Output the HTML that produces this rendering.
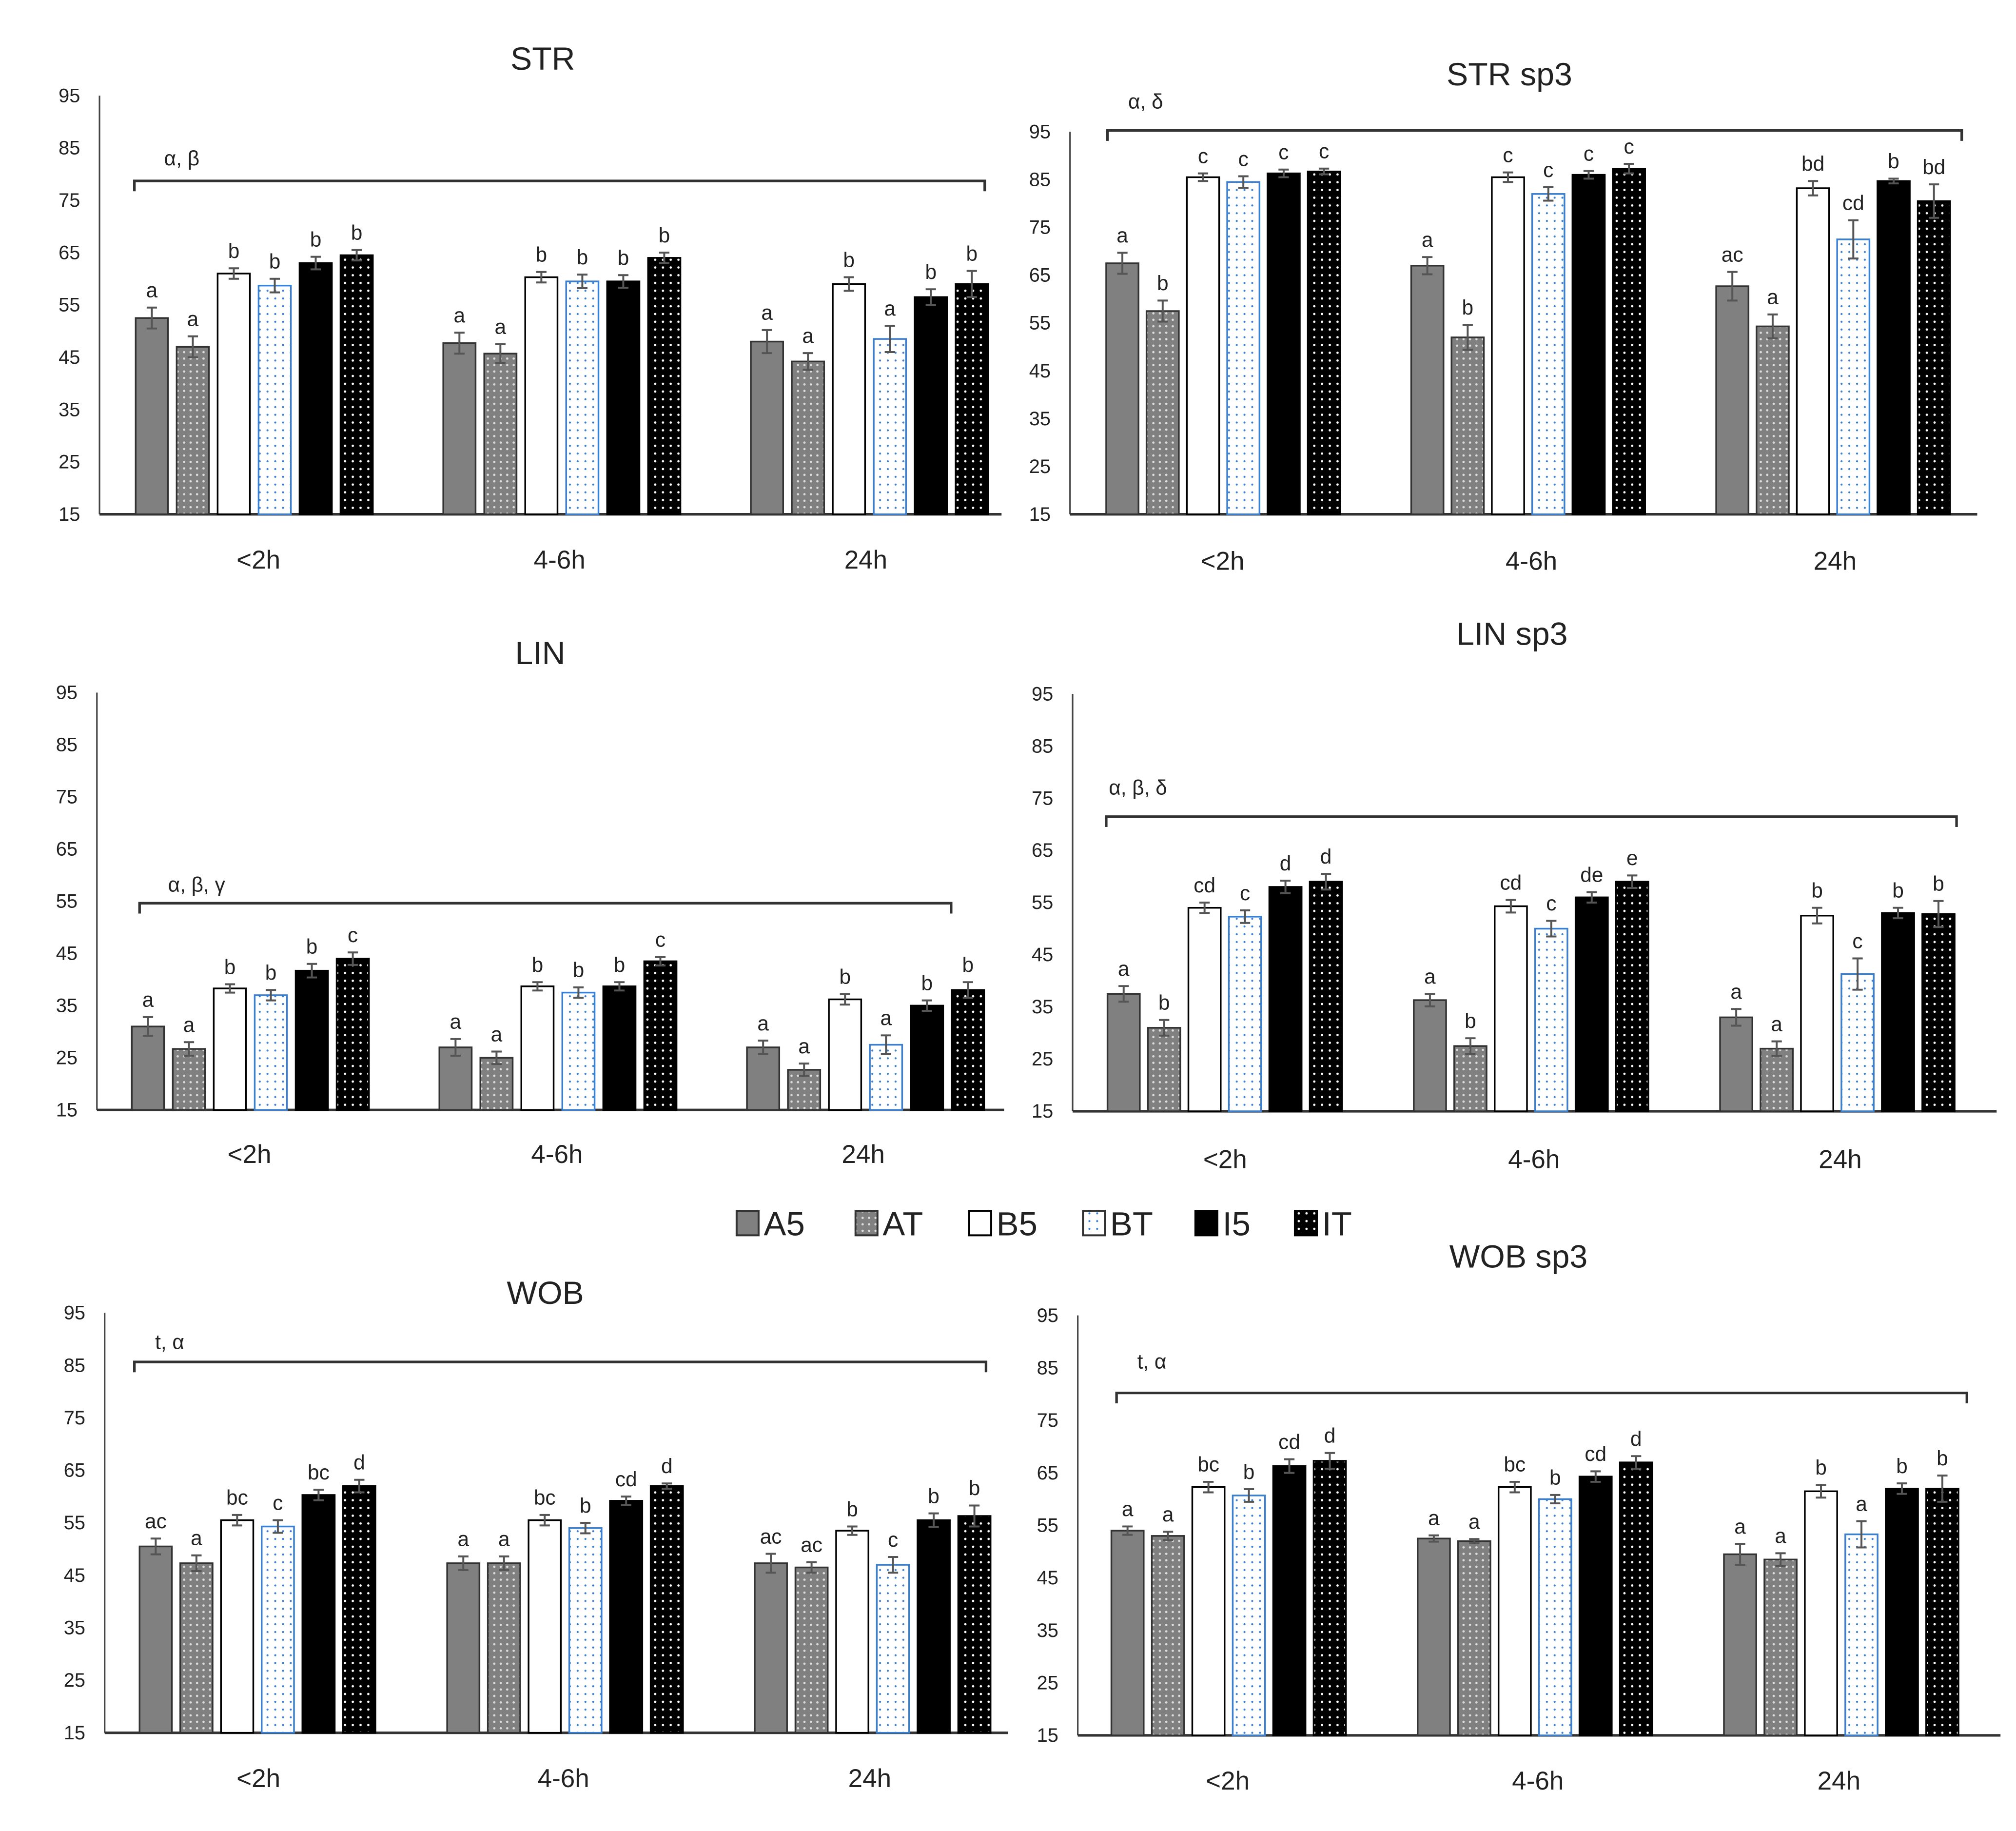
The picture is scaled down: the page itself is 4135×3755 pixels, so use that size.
<!DOCTYPE html>
<html><head><meta charset="utf-8"><style>
html,body{margin:0;padding:0;background:#fff}
svg{display:block}
text{font-family:"Liberation Sans",sans-serif;fill:#222}
</style></head><body>
<svg id="chart" xmlns="http://www.w3.org/2000/svg" width="4135" height="3755" viewBox="0 0 1560 1417" preserveAspectRatio="none">
<defs>
<pattern id="pAT" width="5" height="5" patternUnits="userSpaceOnUse"><rect width="5" height="5" fill="#808080"/><circle cx="2.5" cy="2.5" r="0.9" fill="#ddd"/></pattern>
<pattern id="pBT" width="6" height="6" patternUnits="userSpaceOnUse"><rect width="6" height="6" fill="#fff"/><circle cx="3" cy="3" r="0.8" fill="#3a7fd0"/></pattern>
<pattern id="pIT" width="6" height="6" patternUnits="userSpaceOnUse"><rect width="6" height="6" fill="#000"/><circle cx="3" cy="3" r="0.9" fill="#fff"/></pattern>
</defs>
<g id="legend"></g>
</svg>
<script>
const categories = ["<2h", "4-6h", "24h"];
const seriesNames = ["A5", "AT", "B5", "BT", "I5", "IT"];
const tickLabels = [15, 25, 35, 45, 55, 65, 75, 85, 95];

const strTitle = "STR";
const strValues = [[52.5,47,61,58.7,63,64.5],[47.7,45.7,60.3,59.5,59.5,64],[48,44.2,59,48.5,56.5,59]];
const strErrors = [[2,2,1,1.3,1.2,1],[2,1.8,1,1.3,1.2,1],[2.2,1.6,1.3,2.5,1.5,2.5]];
const strLetters = [["a","a","b","b","b","b"],["a","a","b","b","b","b"],["a","a","b","a","b","b"]];
const strNote = "α, β";

const strSpTitle = "STR sp3";
const strSpValues = [[67.5,57.5,85.5,84.5,86.3,86.7],[67,52,85.5,82,86,87.3],[62.7,54.3,83.2,72.5,84.7,80.5]];
const strSpErrors = [[2.2,2.2,0.8,1.2,0.8,0.6],[1.8,2.6,1,1.4,0.8,1],[3,2.5,1.5,4,0.5,3.5]];
const strSpLetters = [["a","b","c","c","c","c"],["a","b","c","c","c","c"],["ac","a","bd","cd","b","bd"]];
const strSpNote = "α, δ";

const linTitle = "LIN";
const linValues = [[31,26.7,38.3,37,41.7,44],[27,25,38.7,37.5,38.7,43.5],[27,22.7,36.2,27.5,35,38]];
const linErrors = [[1.8,1.3,0.8,1,1.3,1.2],[1.6,1.2,0.8,1,0.8,0.8],[1.3,1.2,1,1.8,1,1.5]];
const linLetters = [["a","a","b","b","b","c"],["a","a","b","b","b","c"],["a","a","b","a","b","b"]];
const linNote = "α, β, γ";

const linSpTitle = "LIN sp3";
const linSpValues = [[37.5,31,54,52.3,58,59],[36.3,27.5,54.3,50,56,59],[33,27,52.5,41.3,53,52.8]];
const linSpErrors = [[1.5,1.5,1,1.2,1.2,1.5],[1.2,1.5,1.2,1.5,1,1.2],[1.6,1.4,1.5,3,1,2.5]];
const linSpLetters = [["a","b","cd","c","d","d"],["a","b","cd","c","de","e"],["a","a","b","c","b","b"]];
const linSpNote = "α, β, δ";

const wobTitle = "WOB";
const wobValues = [[50.5,47.3,55.5,54.3,60.3,62],[47.3,47.3,55.5,54,59.2,62],[47.3,46.5,53.5,47,55.5,56.3]];
const wobErrors = [[1.5,1.5,1,1.2,1,1.2],[1.3,1.3,1,1,0.8,0.5],[1.8,1,0.8,1.5,1.3,2]];
const wobLetters = [["ac","a","bc","c","bc","d"],["a","a","bc","b","cd","d"],["ac","ac","b","c","b","b"]];
const wobNote = "t, α";

const wobSpTitle = "WOB sp3";
const wobSpValues = [[54,53,62.3,60.7,66.3,67.3],[52.5,52,62.3,60,64.3,67],[49.5,48.5,61.5,53.3,62,62]];
const wobSpErrors = [[0.8,0.8,1,1.2,1.3,1.5],[0.6,0.4,1,0.8,1,1.2],[2,1.2,1.2,2.5,1,2.5]];
const wobSpLetters = [["a","a","bc","b","cd","d"],["a","a","bc","b","cd","d"],["a","a","b","a","b","b"]];
const wobSpNote = "t, α";

const NS = "http://www.w3.org/2000/svg";
const svg = document.getElementById("chart");
const fills = ["#808080","url(#pAT)","#fff","url(#pBT)","#000","url(#pIT)"];
const strokes = ["#333","#333","#000","#3a7fd0","#000","#000"];

function mk(tag, attrs, parent, text){
  const e = document.createElementNS(NS, tag);
  for (const k in attrs) e.setAttribute(k, attrs[k]);
  if (text !== undefined) e.textContent = text;
  (parent || svg).appendChild(e);
  return e;
}

const panels = [
 {key:"str", title:strTitle, vals:strValues, errs:strErrors, lets:strLetters, note:strNote,
  ax:77, right:775, top:74, bot:398, first:105, pitch:31.7, gstep:238, bw:25, tx:420, ty:54, catY:440, cats:[200,433,670],
  br:{y:140,x1:104,x2:762,lx:127,ly:128}},
 {key:"str-sp3", title:strSpTitle, vals:strSpValues, errs:strSpErrors, lets:strSpLetters, note:strSpNote,
  ax:828, right:1530, top:102, bot:398, first:856, pitch:31.2, gstep:236, bw:25, tx:1168, ty:66, catY:441, cats:[946,1185,1420],
  br:{y:101,x1:857,x2:1518,lx:873,ly:84}},
 {key:"lin", title:linTitle, vals:linValues, errs:linErrors, lets:linLetters, note:linNote,
  ax:75, right:777, top:536, bot:859, first:102, pitch:31.7, gstep:238, bw:25, tx:418, ty:514, catY:900, cats:[193,431,668],
  br:{y:699,x1:108,x2:736,lx:130,ly:690}},
 {key:"lin-sp3", title:linSpTitle, vals:linSpValues, errs:linSpErrors, lets:linSpLetters, note:linSpNote,
  ax:830, right:1545, top:537, bot:860, first:857, pitch:31.3, gstep:237, bw:25, tx:1170, ty:499, catY:904, cats:[948,1187,1424],
  br:{y:632,x1:856,x2:1514,lx:858,ly:615}},
 {key:"wob", title:wobTitle, vals:wobValues, errs:wobErrors, lets:wobLetters, note:wobNote,
  ax:81, right:780, top:1016, bot:1341, first:108, pitch:31.5, gstep:238, bw:25, tx:422, ty:1009, catY:1383, cats:[200,436,673],
  br:{y:1054,x1:104,x2:763,lx:120,ly:1044}},
 {key:"wob-sp3", title:wobSpTitle, vals:wobSpValues, errs:wobSpErrors, lets:wobSpLetters, note:wobSpNote,
  ax:834, right:1548, top:1018, bot:1343, first:860, pitch:31.3, gstep:237, bw:25, tx:1175, ty:981, catY:1385, cats:[950,1190,1423],
  br:{y:1078,x1:864,x2:1522,lx:880,ly:1059}}
];

panels.forEach(p => {
  const g = mk("g", {});
  
  
  const yS = v => p.bot - (v - 15) / 80 * (p.bot - p.top);
  const xS = (gi, si) => p.first + gi * p.gstep + si * p.pitch;

  const t = mk("text", {x:p.tx, y:p.ty, "text-anchor":"middle", "font-size":25}, g, p.title);
  
  

  tickLabels.forEach(v => {
    const tl = mk("text", {x:p.ax - 15, y:yS(v) + 5, "text-anchor":"end", "font-size":15, fill:"#111"}, g, String(v));
    
    
  });
  const ya = mk("line", {x1:p.ax, y1:p.top, x2:p.ax, y2:p.bot, stroke:"#444", "stroke-width":1.2}, g);
  
  
  const xa = mk("line", {x1:p.ax, y1:p.bot, x2:p.right, y2:p.bot, stroke:"#333", "stroke-width":2}, g);
  
  

  categories.forEach((c, i) => {
    const cl = mk("text", {x:p.cats[i], y:p.catY, "text-anchor":"middle", "font-size":20}, g, c);
    
    
  });

  const bp = mk("path", {d:`M${p.br.x1},${p.br.y+8} V${p.br.y} H${p.br.x2} V${p.br.y+8}`, fill:"none", stroke:"#333", "stroke-width":2}, g);
  
  
  const nt = mk("text", {x:p.br.lx, y:p.br.ly, "font-size":16}, g, p.note);
  
  

  p.vals.forEach((row, gi) => row.forEach((v, si) => {
    const x = xS(gi, si), y = yS(v);
    const r = mk("rect", {x:x, y:y, width:p.bw, height:p.bot - y, fill:fills[si], stroke:strokes[si], "stroke-width":1.3}, g);
    
    
    const e = p.errs[gi][si], cx = x + p.bw / 2;
    const eb = mk("path", {d:`M${cx},${yS(v+e)} V${yS(v-e)} M${cx-4},${yS(v+e)} H${cx+4} M${cx-4},${yS(v-e)} H${cx+4}`, stroke:"#555", "stroke-width":1.5, fill:"none"}, g);
    
    
    const lt = mk("text", {x:cx, y:yS(v+e) - 8, "text-anchor":"middle", "font-size":16}, g, p.lets[gi][si]);
    
    
  }));
});

const lg = document.getElementById("legend");
const legX = [570, 662, 750, 838, 925, 1002];
seriesNames.forEach((n, i) => {
  const sw = mk("rect", {x:legX[i], y:937, width:17, height:19, fill:fills[i], stroke:strokes[i] === "#3a7fd0" ? "#333" : strokes[i], "stroke-width":1.5}, lg);
  
  
  const lt = mk("text", {x:legX[i] + 21, y:956, "font-size":26}, lg, n);
  
  
});
</script>
</body></html>
